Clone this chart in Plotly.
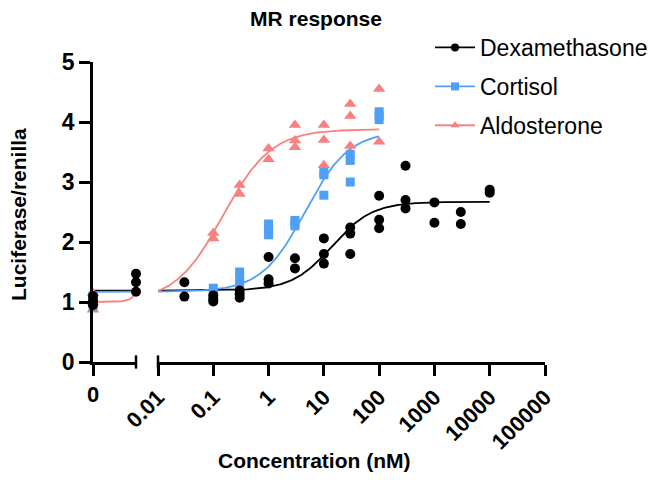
import numpy as np
import plotly.graph_objects as go

# ---------------- data ----------------
series_names = ["Dexamethasone", "Cortisol", "Aldosterone"]

# vehicle (0 nM) replicates
zero_dex = [1.10, 1.02, 0.95]
zero_cort = [1.10, 1.00, 0.93]
zero_aldo = [1.15, 1.00, 0.87]

# dexamethasone replicates at the break edge of the left segment
dex_low_conc = 0.008
dex_low_vals = [1.47, 1.33, 1.17]

dex_conc = [0.03, 0.1, 0.3, 1, 3, 10, 30, 100, 300, 1000, 3000, 10000]
dex_vals = [
    [1.33, 1.09],
    [1.11, 1.05, 1.01],
    [1.19, 1.13, 1.07],
    [1.75, 1.38, 1.31],
    [1.73, 1.56],
    [2.06, 1.80, 1.64],
    [2.24, 2.14, 1.80],
    [2.77, 2.37, 2.23],
    [3.27, 2.70, 2.56],
    [2.66, 2.32],
    [2.50, 2.30],
    [2.87, 2.82],
]

cort_conc = [0.1, 0.3, 1, 3, 10, 30, 100]
cort_vals = [
    [1.23, 1.10, 1.04],
    [1.50, 1.40, 1.30],
    [2.30, 2.20, 2.12],
    [2.36, 2.31, 2.27],
    [3.16, 3.12, 2.78],
    [3.46, 3.36, 3.00],
    [4.17, 4.10, 4.04],
]

aldo_conc = [0.1, 0.3, 1, 3, 10, 30, 100]
aldo_vals = [
    [2.15, 2.06],
    [2.95, 2.80],
    [3.56, 3.38],
    [3.95, 3.69, 3.58],
    [3.95, 3.70, 3.28],
    [4.30, 4.10, 3.60],
    [4.55, 3.67],
]

# four-parameter logistic fits: bottom, top, EC50 (nM), Hill slope
dex_fit = (1.19, 2.67, 14.0, 1.2)
cort_fit = (1.17, 3.85, 4.6, 1.1)
aldo_fit = (1.00, 3.88, 0.15, 1.0)
fit_max_conc = [10000, 100, 100]

# axes
left_range_log = [-5.5, np.log10(dex_low_conc)]
zero_pos = 10 ** left_range_log[0]
main_range_log = [-2, 5]
main_ticks = [0.01, 0.1, 1, 10, 100, 1000, 10000, 100000]
main_ticktext = ["0.01", "0.1", "1", "10", "100", "1000", "10000", "100000"]
y_ticks = [0, 1, 2, 3, 4, 5]

colors = ["#000000", "#4f9ff7", "#f88080"]
symbols = ["circle", "square", "triangle-up"]
msizes = [10, 9, 11]

FONT = "Arial, Liberation Sans, Helvetica, sans-serif"


def hill(x, p):
    b, t, ec, h = p
    x = np.asarray(x, dtype=float)
    return b + (t - b) / (1 + (ec / x) ** h)


def flatten(conc, vals):
    xs, ys = [], []
    for c, vs in zip(conc, vals):
        for v in vs:
            xs.append(c)
            ys.append(v)
    return xs, ys


fig = go.Figure()

fits = [dex_fit, cort_fit, aldo_fit]
zeros = [zero_dex, zero_cort, zero_aldo]
concs = [dex_conc, cort_conc, aldo_conc]
valss = [dex_vals, cort_vals, aldo_vals]

# fitted curves
for i in range(3):
    xl = np.logspace(left_range_log[0], left_range_log[1], 120)
    fig.add_trace(go.Scatter(x=xl, y=hill(xl, fits[i]), mode="lines", xaxis="x", yaxis="y",
                             line=dict(color=colors[i], width=1.8), showlegend=False,
                             hoverinfo="skip"))
    xm = np.logspace(main_range_log[0], np.log10(fit_max_conc[i]), 300)
    fig.add_trace(go.Scatter(x=xm, y=hill(xm, fits[i]), mode="lines", xaxis="x2", yaxis="y",
                             line=dict(color=colors[i], width=1.8), showlegend=False,
                             hoverinfo="skip"))

# data points (draw aldosterone first, dexamethasone on top)
for i in [2, 1, 0]:
    mk = dict(color=colors[i], symbol=symbols[i], size=msizes[i], line=dict(width=0))
    fig.add_trace(go.Scatter(x=[zero_pos] * len(zeros[i]), y=zeros[i], mode="markers",
                             xaxis="x", yaxis="y", marker=mk, showlegend=False,
                             cliponaxis=False))
    xs, ys = flatten(concs[i], valss[i])
    fig.add_trace(go.Scatter(x=xs, y=ys, mode="markers", xaxis="x2", yaxis="y",
                             marker=mk, showlegend=False, cliponaxis=False))
    if i == 0:
        fig.add_trace(go.Scatter(x=[dex_low_conc] * len(dex_low_vals), y=dex_low_vals,
                                 mode="markers", xaxis="x", yaxis="y", marker=mk,
                                 showlegend=False, cliponaxis=False))

# legend entries
for i in range(3):
    fig.add_trace(go.Scatter(x=[None], y=[None], mode="lines+markers", name=series_names[i],
                             legendgroup=series_names[i], xaxis="x2", yaxis="y",
                             line=dict(color=colors[i], width=1.8),
                             marker=dict(color=colors[i], symbol=symbols[i], size=8)))

# break caps at the segment ends
for xref, xv in [("x domain", 1), ("x2 domain", 0)]:
    fig.add_shape(type="line", xref=xref, x0=xv, x1=xv, yref="y domain", y0=-0.022, y1=0.022,
                  line=dict(color="black", width=2.5))

# the page body has an 8px margin, so the figure is laid out in page coords - 8
OFF = 8
W, H = 661 - OFF, 493 - OFF
L, T = 93 - OFF, 62 - OFF
PW, PH = 452, 300
R, B = W - L - PW, H - T - PH
left_dom = [0, (136 - 93) / PW]
main_dom = [(158 - 93) / PW, 1]


def px_x(page_x):
    return (page_x - OFF - L) / PW


def px_y(page_y):
    return (T + PH - (page_y - OFF)) / PH


axis_common = dict(showline=True, linecolor="black", linewidth=2.5, ticks="outside",
                   ticklen=11, tickwidth=2.5, tickcolor="black", showgrid=False,
                   zeroline=False, mirror=False, automargin=False)
tickfont = dict(family=FONT, size=22, color="black", weight="bold")

fig.update_layout(
    width=W, height=H,
    margin=dict(l=L, r=R, t=T, b=B, autoexpand=False),
    paper_bgcolor="white", plot_bgcolor="white",
    font=dict(family=FONT, color="black"),
    title=dict(text="<b>MR response</b>", x=px_x(316), xref="paper", xanchor="center",
               y=1 - 3 / H, yanchor="top", pad=dict(t=0, b=0),
               font=dict(family=FONT, size=21, color="black")),
    xaxis=dict(type="log", domain=left_dom, range=left_range_log, anchor="y",
               tickmode="array", tickvals=[zero_pos], ticktext=["0"], tickangle=0,
               tickfont=tickfont, **axis_common),
    xaxis2=dict(type="log", domain=main_dom, range=main_range_log, anchor="y",
                tickmode="array", tickvals=main_ticks, ticktext=main_ticktext, tickangle=-45,
                tickfont=tickfont, **axis_common),
    yaxis=dict(range=[0, 5], tickmode="array", tickvals=y_ticks, anchor="x",
               tickfont=dict(family=FONT, size=23, color="black", weight="bold"),
               **axis_common),
    legend=dict(x=px_x(430), xanchor="left", y=px_y(26), yanchor="top",
                bgcolor="rgba(0,0,0,0)", tracegroupgap=6, itemwidth=40,
                font=dict(family=FONT, size=23, color="black")),
    showlegend=True,
    annotations=[
        dict(text="<b>Concentration (nM)</b>", xref="paper", yref="paper",
             x=px_x(314), y=px_y(460), xanchor="center", yanchor="middle",
             showarrow=False, font=dict(family=FONT, size=21, color="black")),
        dict(text="<b>Luciferase/renilla</b>", xref="paper", yref="paper", textangle=-90,
             x=px_x(18), y=px_y(215), xanchor="center", yanchor="middle",
             showarrow=False, font=dict(family=FONT, size=21, color="black")),
    ],
)

fig.write_html("out.html")
